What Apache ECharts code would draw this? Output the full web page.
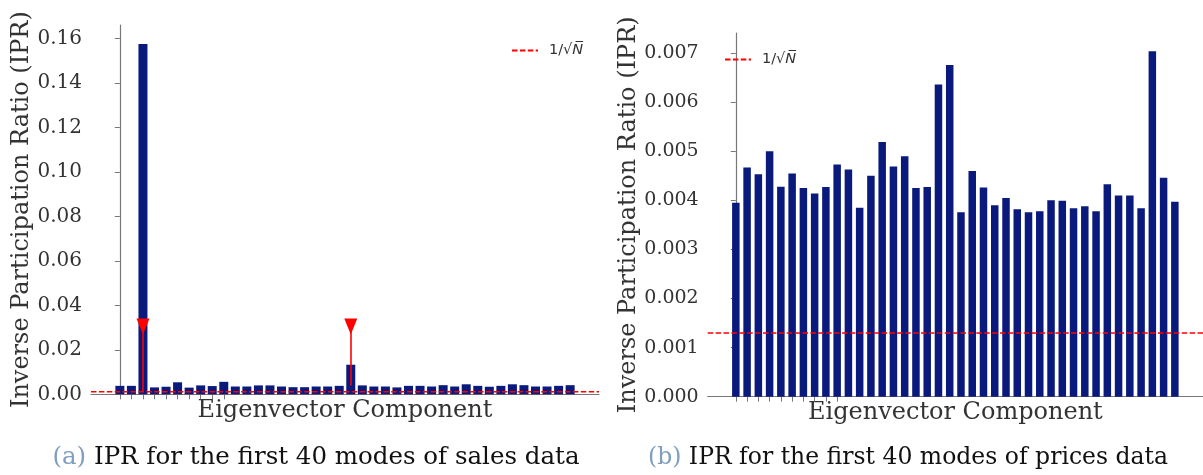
<!DOCTYPE html>
<html>
<head>
<meta charset="utf-8">
<script src="https://cdn.jsdelivr.net/npm/echarts@6/dist/echarts.min.js"></script>
<style>
  html, body { margin: 0; padding: 0; background: #ffffff; }
  #chart { width: 1203px; height: 475px; }
</style>
</head>
<body>
<div id="chart"></div>
<script>
// ---- data ----
const modes = [1,2,3,4,5,6,7,8,9,10,11,12,13,14,15,16,17,18,19,20,
               21,22,23,24,25,26,27,28,29,30,31,32,33,34,35,36,37,38,39,40];
const salesIPR = [0.0038,0.0038,0.1575,0.0031,0.0034,0.0054,0.0030,0.0040,0.0037,0.0056,
                  0.0035,0.0035,0.0040,0.0040,0.0035,0.0032,0.0032,0.0035,0.0035,0.0038,
                  0.0133,0.0040,0.0035,0.0035,0.0031,0.0038,0.0038,0.0035,0.0041,0.0035,
                  0.0045,0.0038,0.0034,0.0038,0.0045,0.0041,0.0035,0.0035,0.0038,0.0041];
const pricesIPR = [0.00395,0.00467,0.00453,0.00500,0.00428,0.00455,0.00425,0.00414,0.00427,0.00473,
                   0.00463,0.00385,0.00450,0.00519,0.00469,0.00490,0.00425,0.00427,0.00636,0.00676,
                   0.00376,0.00460,0.00426,0.00390,0.00405,0.00382,0.00376,0.00378,0.00400,0.00399,
                   0.00384,0.00388,0.00378,0.00433,0.00410,0.00410,0.00384,0.00704,0.00446,0.00397];
const invSqrtNSales = 0.0012;
const invSqrtNPrices = 0.0013;
const markerModes = [3, 21];
const markerValues = [0.0305, 0.0305];
const stemBottoms = [0.0012, 0.0040];
const salesTicks = [0, 0.02, 0.04, 0.06, 0.08, 0.10, 0.12, 0.14, 0.16];
const pricesTicks = [0, 0.001, 0.002, 0.003, 0.004, 0.005, 0.006, 0.007];
const tickedModes = [1,2,3,4,5,6,7,8,9,10];
const legendName = '1/√N';

// ---- styling ----
const NAVY = '#0a1a7c';
const RED = '#ff0000';
const AXIS_GRAY = '#777777';
const TEXT = '#333333';
const SERIF = 'DejaVu Serif';
const X_MIN = -2.5, X_MAX = 41.5;
const DASH_ICON = 'path://M0,0h5.5v1.8h-5.5z M7.9,0h5.5v1.8h-5.5z M15.8,0h5.5v1.8h-5.5z M23.7,0h2.3v1.8h-2.3z';

const toPos = m => m - 1;

function xAxisCfg(gridIndex) {
  return {
    type: 'value', gridIndex, min: X_MIN, max: X_MAX,
    name: 'Eigenvector Component', nameLocation: 'middle', nameGap: 4,
    nameTextStyle: { fontFamily: SERIF, fontSize: 24, color: TEXT },
    axisLine: { show: true, lineStyle: { color: AXIS_GRAY, width: 1.2 } },
    axisTick: { show: true, customValues: tickedModes.map(toPos), length: 5,
                lineStyle: { color: AXIS_GRAY, width: 1 } },
    axisLabel: { show: false },
    splitLine: { show: false }
  };
}
function yAxisCfg(gridIndex, max, ticks, decimals, fontSize, nameGap) {
  return {
    type: 'value', gridIndex, min: 0, max,
    name: 'Inverse Participation Ratio (IPR)', nameLocation: 'middle', nameRotate: 90, nameGap,
    nameTextStyle: { fontFamily: SERIF, fontSize: 24, color: TEXT },
    axisLine: { show: true, lineStyle: { color: AXIS_GRAY, width: 1.2 } },
    axisTick: { show: true, customValues: ticks, length: 5, lineStyle: { color: AXIS_GRAY, width: 1 } },
    axisLabel: { customValues: ticks, fontFamily: SERIF, fontSize, color: TEXT, margin: 9,
                 formatter: v => v.toFixed(decimals) },
    splitLine: { show: false }
  };
}
function refLine(xi, yi, v) {
  return {
    name: legendName, type: 'line', xAxisIndex: xi, yAxisIndex: yi,
    data: [[X_MIN, v], [X_MAX, v]], symbol: 'none', z: 5,
    lineStyle: { color: RED, width: 1.5, type: [5.5, 2.4] }, itemStyle: { color: RED },
    silent: true
  };
}
function legendCfg(left, top) {
  return {
    data: [{ name: legendName, icon: DASH_ICON }], left, top, itemWidth: 26, itemHeight: 1.8,
    selectedMode: false,
    formatter: () => '{t|1/√}{n|N̅}',
    textStyle: {
      padding: [0, 0, 0, 6],
      rich: {
        t: { fontFamily: 'DejaVu Sans', fontSize: 14.5, color: TEXT },
        n: { fontFamily: 'DejaVu Sans', fontSize: 14.5, color: TEXT, fontStyle: 'italic' }
      }
    }
  };
}

const chart = echarts.init(document.getElementById('chart'), null, { renderer: 'canvas' });
chart.setOption({
  animation: false,
  backgroundColor: '#ffffff',
  grid: [
    { left: 91, top: 25, width: 508, height: 369.3 },
    { left: 707.7, top: 33, width: 497, height: 363.7 }
  ],
  xAxis: [xAxisCfg(0), xAxisCfg(1)],
  yAxis: [
    yAxisCfg(0, 0.166, salesTicks, 2, 20, 56),
    yAxisCfg(1, 0.00741, pricesTicks, 3, 19, 67)
  ],
  legend: [legendCfg(507, 38), legendCfg(720, 47)],
  series: [
    { name: 'sales', type: 'bar', xAxisIndex: 0, yAxisIndex: 0, barWidth: 9,
      data: salesIPR.map((v, i) => [toPos(modes[i]), v]),
      itemStyle: { color: NAVY }, silent: true, z: 2 },
    refLine(0, 0, invSqrtNSales),
    { name: 'markers', type: 'scatter', xAxisIndex: 0, yAxisIndex: 0,
      data: markerModes.map((m, k) => [toPos(m), markerValues[k]]),
      symbol: 'triangle', symbolRotate: 180, symbolSize: [13, 16],
      itemStyle: { color: RED, opacity: 1 }, z: 6, silent: true,
      markLine: {
        silent: true, symbol: ['none', 'none'], label: { show: false }, z: 7,
        emphasis: { disabled: true },
        lineStyle: { color: RED, width: 1.6, type: 'solid', opacity: 1 },
        data: markerModes.map((m, k) => [
          { coord: [toPos(m), stemBottoms[k]] },
          { coord: [toPos(m), markerValues[k]] }
        ])
      }
    },
    { name: 'prices', type: 'bar', xAxisIndex: 1, yAxisIndex: 1, barWidth: 7.5,
      data: pricesIPR.map((v, i) => [toPos(modes[i]), v]),
      itemStyle: { color: NAVY }, silent: true, z: 2 },
    refLine(1, 1, invSqrtNPrices)
  ],
  graphic: [
    { type: 'text', x: 316, y: 458, silent: true,
      style: { text: '{p|(a)}{t| IPR for the first 40 modes of sales data}',
               align: 'center', verticalAlign: 'middle',
               rich: { p: { fill: '#7f9fbf', fontFamily: SERIF, fontSize: 24.5 },
                       t: { fill: '#111111', fontFamily: SERIF, fontSize: 24.5 } } } },
    { type: 'text', x: 908, y: 458, silent: true,
      style: { text: '{p|(b)}{t| IPR for the first 40 modes of prices data}',
               align: 'center', verticalAlign: 'middle',
               rich: { p: { fill: '#7f9fbf', fontFamily: SERIF, fontSize: 23.5 },
                       t: { fill: '#111111', fontFamily: SERIF, fontSize: 23.5 } } } }
  ]
});
</script>
</body>
</html>
